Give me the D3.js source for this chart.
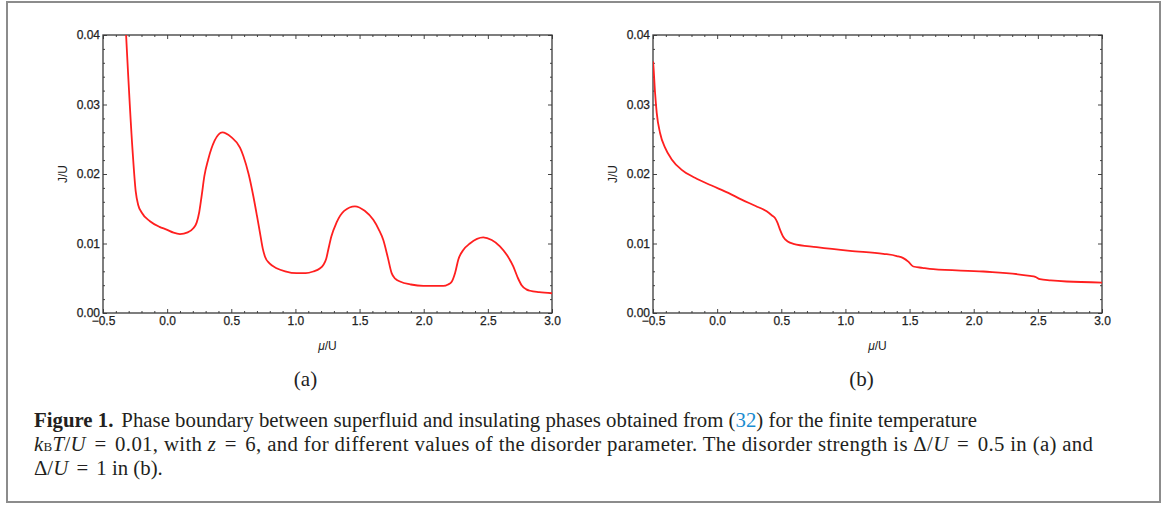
<!DOCTYPE html>
<html>
<head>
<meta charset="utf-8">
<script src="https://cdn.jsdelivr.net/npm/d3@7"></script>
<style>
  body { margin: 0; background: #fff; }
  .tick text { font-family: "Liberation Sans", Arial, sans-serif; font-size: 12px; fill: #222; stroke: #222; stroke-width: 0.25px; }
  .domain { display: none; }
  .tick line { stroke: #444; stroke-width: 1; }
</style>
</head>
<body>
<div id="chart"></div>
<script>
// panel (a): Delta/U = 0.5
var muA = [-0.32, -0.27, -0.245, -0.225, -0.20, -0.134, -0.06, -0.004, 0.05, 0.10, 0.16, 0.204, 0.23, 0.25, 0.27, 0.29, 0.32, 0.37, 0.43, 0.50, 0.568, 0.594, 0.635, 0.672, 0.70, 0.724, 0.745, 0.763, 0.80, 0.853, 0.92, 1.009, 1.08, 1.139, 1.19, 1.217, 1.24, 1.256, 1.28, 1.32, 1.38, 1.464, 1.54, 1.607, 1.65, 1.685, 1.72, 1.75, 1.78, 1.815, 1.9, 1.997, 2.08, 2.152, 2.19, 2.218, 2.245, 2.27, 2.31, 2.36, 2.464, 2.53, 2.594, 2.65, 2.698, 2.735, 2.763, 2.80, 2.83, 2.9, 3.0];
var jA = [0.0400, 0.0235, 0.0175, 0.0155, 0.0145, 0.0132, 0.0124, 0.0120, 0.01155, 0.01136, 0.0116, 0.0122, 0.0130, 0.0145, 0.0170, 0.0197, 0.0221, 0.0248, 0.0260, 0.0253, 0.0238, 0.0226, 0.0200, 0.0168, 0.0140, 0.0115, 0.0093, 0.0081, 0.0071, 0.00645, 0.0060, 0.00573, 0.00573, 0.00597, 0.0064, 0.0069, 0.0078, 0.0091, 0.0110, 0.0130, 0.0147, 0.01535, 0.0147, 0.0134, 0.0120, 0.0105, 0.0080, 0.00573, 0.0049, 0.00453, 0.0041, 0.0039, 0.0039, 0.0039, 0.0041, 0.0045, 0.0058, 0.0077, 0.0091, 0.0100, 0.01088, 0.0105, 0.0096, 0.0083, 0.0067, 0.0050, 0.0040, 0.0034, 0.0032, 0.0030, 0.00284];

// panel (b): Delta/U = 1
var muB = [-0.5, -0.497, -0.484, -0.471, -0.445, -0.406, -0.354, -0.276, -0.173, -0.043, 0.087, 0.191, 0.30, 0.386, 0.43, 0.451, 0.47, 0.49, 0.516, 0.55, 0.594, 0.776, 1.035, 1.295, 1.40, 1.451, 1.49, 1.529, 1.6, 1.685, 2.075, 2.438, 2.48, 2.516, 2.6, 2.724, 3.0];
var jB = [0.0362, 0.0356, 0.0317, 0.0288, 0.0259, 0.0238, 0.0221, 0.0206, 0.01945, 0.01834, 0.01728, 0.01632, 0.0154, 0.01463, 0.0140, 0.01367, 0.0130, 0.0120, 0.01093, 0.0103, 0.00996, 0.00949, 0.00895, 0.00852, 0.0082, 0.0079, 0.0074, 0.00669, 0.0065, 0.0063, 0.00597, 0.00534, 0.0052, 0.00487, 0.0047, 0.00453, 0.00438];

var xTicks = [-0.5, 0.0, 0.5, 1.0, 1.5, 2.0, 2.5, 3.0];
var yTicks = [0.00, 0.01, 0.02, 0.03, 0.04];
var panelLabels = ["(a)", "(b)"];

var W = 1174, H = 506;
var plotW = 449, plotH = 278, plotTop = 35;
var lefts = [103, 653];

var svg = d3.select("#chart").append("svg")
    .attr("width", W).attr("height", H);

svg.append("rect").attr("width", W).attr("height", H).attr("fill", "#fff");

// outer figure frame
svg.append("rect")
    .attr("x", 7).attr("y", 2).attr("width", 1153).attr("height", 500)
    .attr("fill", "none").attr("stroke", "#8c8c8c").attr("stroke-width", 2);

var x = d3.scaleLinear().domain([-0.5, 3.0]).range([0, plotW]);
var y = d3.scaleLinear().domain([0, 0.04]).range([plotH, 0]);

var xMinor = d3.range(-5, 31).map(function(i) { return i / 10; }).filter(function(v) { return Math.abs(v * 2 - Math.round(v * 2)) > 1e-6; });
var yMinor = d3.range(0, 21).map(function(i) { return i * 0.002; }).filter(function(v) { return Math.abs(v * 100 - Math.round(v * 100)) > 1e-6; });

var line = d3.line()
    .x(function(d) { return x(d[0]); })
    .y(function(d) { return y(d[1]); })
    .curve(d3.curveMonotoneX);

var series = [d3.zip(muA, jA), d3.zip(muB, jB)];

series.forEach(function(data, p) {
  var g = svg.append("g").attr("transform", "translate(" + lefts[p] + "," + plotTop + ")");

  g.append("clipPath").attr("id", "clip" + p)
    .append("rect").attr("width", plotW).attr("height", plotH);

  // minor ticks
  g.append("g").attr("transform", "translate(0," + plotH + ")")
    .call(d3.axisBottom(x).tickValues(xMinor).tickSize(-2).tickFormat(""));
  g.append("g")
    .call(d3.axisTop(x).tickValues(xMinor).tickSize(-2).tickFormat(""));
  g.append("g")
    .call(d3.axisLeft(y).tickValues(yMinor).tickSize(-2).tickFormat(""));
  g.append("g").attr("transform", "translate(" + plotW + ",0)")
    .call(d3.axisRight(y).tickValues(yMinor).tickSize(-2).tickFormat(""));

  // major ticks
  g.append("g").attr("transform", "translate(0," + plotH + ")")
    .call(d3.axisBottom(x).tickValues(xTicks).tickSize(-4).tickPadding(3)
      .tickFormat(function(d) { return d3.format(".1f")(d).replace("-", "\u2212"); }));
  g.append("g")
    .call(d3.axisTop(x).tickValues(xTicks).tickSize(-4).tickFormat(""));
  g.append("g")
    .call(d3.axisLeft(y).tickValues(yTicks).tickSize(-4).tickPadding(3).tickFormat(d3.format(".2f")));
  g.append("g").attr("transform", "translate(" + plotW + ",0)")
    .call(d3.axisRight(y).tickValues(yTicks).tickSize(-4).tickFormat(""));

  g.append("rect")
    .attr("width", plotW).attr("height", plotH)
    .attr("fill", "none").attr("stroke", "#3a3a3a").attr("stroke-width", 1.3);

  g.append("path")
    .datum(data)
    .attr("clip-path", "url(#clip" + p + ")")
    .attr("fill", "none")
    .attr("stroke", "#ff1f1f")
    .attr("stroke-width", 1.8)
    .attr("d", line);

  // axis titles
  var xt = g.append("text")
    .attr("x", plotW / 2).attr("y", plotH + 37)
    .attr("text-anchor", "middle")
    .style("font-family", "Liberation Sans, Arial, sans-serif")
    .style("font-size", "12px").style("fill", "#222");
  xt.append("tspan").style("font-style", "italic").text("\u03bc");
  xt.append("tspan").text("/U");

  g.append("text")
    .attr("transform", "translate(" + (-36) + "," + (plotH / 2) + ") rotate(-90)")
    .attr("text-anchor", "middle")
    .style("font-family", "Liberation Sans, Arial, sans-serif")
    .style("font-size", "12px").style("fill", "#222")
    .text("J/U");

  svg.append("text")
    .attr("x", lefts[p] + plotW / 2 - 22 + p * 6).attr("y", 386)
    .attr("text-anchor", "middle")
    .style("font-family", "Liberation Serif, serif")
    .style("font-size", "21px").style("fill", "#222")
    .text(panelLabels[p]);
});

// caption
var cap = svg.append("g")
    .style("font-family", "Liberation Serif, serif")
    .style("font-size", "20.8px").style("fill", "#231f20");

var l1 = cap.append("text").attr("x", 34).attr("y", 427)
    .attr("textLength", 943).attr("lengthAdjust", "spacing");
l1.append("tspan").style("font-weight", "bold").text("Figure 1.");
l1.append("tspan").attr("dx", 8).text("Phase boundary between superfluid and insulating phases obtained from (");
l1.append("tspan").style("fill", "#1a8cd0").text("32");
l1.append("tspan").text(") for the finite temperature");

var eq = 3;
var l2 = cap.append("text").attr("x", 34).attr("y", 451)
    .attr("textLength", 1059).attr("lengthAdjust", "spacing");
l2.append("tspan").style("font-style", "italic").text("k");
l2.append("tspan").style("font-size", "13px").text("B");
l2.append("tspan").style("font-style", "italic").text("T");
l2.append("tspan").text("/");
l2.append("tspan").style("font-style", "italic").text("U");
l2.append("tspan").attr("dx", eq).text(" = ");
l2.append("tspan").attr("dx", eq).text("0.01, with ");
l2.append("tspan").style("font-style", "italic").text("z");
l2.append("tspan").attr("dx", eq).text(" = ");
l2.append("tspan").attr("dx", eq).text("6, and for different values of the disorder parameter. The disorder strength is \u0394/");
l2.append("tspan").style("font-style", "italic").text("U");
l2.append("tspan").attr("dx", eq).text(" = ");
l2.append("tspan").attr("dx", eq).text("0.5 in (a) and");

var l3 = cap.append("text").attr("x", 34).attr("y", 475);
l3.append("tspan").text("\u0394/");
l3.append("tspan").style("font-style", "italic").text("U");
l3.append("tspan").attr("dx", eq).text(" = ");
l3.append("tspan").attr("dx", eq).text("1 in (b).");
</script>
</body>
</html>
